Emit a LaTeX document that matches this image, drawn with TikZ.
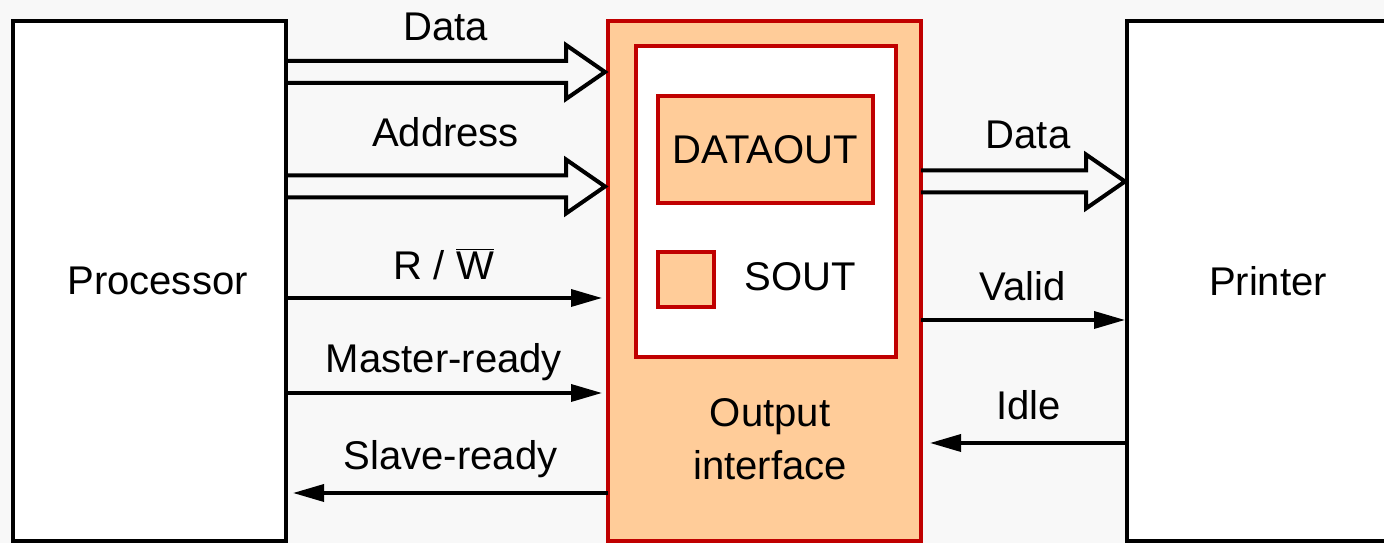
\documentclass[tikz,border=0pt]{standalone}
\usepackage{fontspec}
\setmainfont{Liberation Sans}
\usepackage{tikz}
\usetikzlibrary{arrows.meta,positioning,calc}
\definecolor{ifred}{RGB}{192,0,0}
\definecolor{ifpeach}{RGB}{255,204,153}
\definecolor{bggray}{RGB}{248,248,248}

% hollow bus arrow between two named coordinates
\newcommand{\busarrow}[2]{%
  \draw[bus] ($(#1)+(0,0.22)$) -- ($(#2)+(-0.78,0.22)$) -- ($(#2)+(-0.78,0.54)$)
    -- (#2) -- ($(#2)+(-0.78,-0.54)$) -- ($(#2)+(-0.78,-0.22)$) -- ($(#1)+(0,-0.22)$);}

\begin{document}
\begin{tikzpicture}[
    every node/.style={font=\fontsize{22.8}{30}\selectfont, outer sep=0pt},
    unit/.style={draw, line width=0.08cm, fill=white, minimum height=10.4cm,
      anchor=north west, inner sep=0pt},
    regbox/.style={draw=ifred, line width=0.08cm, fill=ifpeach,
      anchor=north west, inner sep=0pt},
    bus/.style={line width=0.08cm},
    sig/.style={line width=0.07cm, -{Triangle[length=0.62cm,width=0.34cm]}},
    lab/.style={midway, yshift=0.68cm}
  ]
  \clip (0,0) rectangle (27.68,10.86);
  \fill[bggray] (0,0) rectangle (27.68,10.86);

  % Units
  \node[unit, minimum width=5.46cm, label={[xshift=0.16cm]center:Processor}] (proc) at (0.26,10.44) {};
  \node[unit, minimum width=5.64cm] (prn) at (22.54,10.44) {Printer};

  % Output interface with its registers
  \node[regbox, minimum width=6.26cm, minimum height=10.4cm] (oi) at (12.16,10.44) {};
  \node[draw=ifred, line width=0.08cm, fill=white, minimum width=5.2cm,
    minimum height=6.22cm, anchor=north west] (buf) at (12.72,9.94) {};
  \node[regbox, minimum width=4.3cm, minimum height=2.14cm] (dout) at (13.16,8.94) {DATAOUT};
  \node[regbox, minimum width=1.12cm, minimum height=1.1cm] (sbox) at (13.16,5.82) {};
  \node (sout) at (16.0,5.32) {SOUT};
  \node[align=center] (oilab) at (15.4,2.07) {Output\\interface};

  % Buses
  \coordinate (da) at (proc.east |- 0,9.42);
  \coordinate (db) at ([xshift=-0.06cm]oi.west |- 0,9.42);
  \coordinate (aa) at (proc.east |- 0,7.13);
  \coordinate (ab) at ([xshift=-0.06cm]oi.west |- 0,7.13);
  \coordinate (pa) at (oi.east |- 0,7.23);
  \coordinate (pb) at ([xshift=-0.04cm]prn.west |- 0,7.23);
  \busarrow{da}{db}
  \busarrow{aa}{ab}
  \busarrow{pa}{pb}
  \path (da) -- (db) node[midway, yshift=0.9cm] {Data};
  \path (aa) -- (ab) node[midway, yshift=1.09cm] {Address};
  \path (pa) -- (pb) node[midway, xshift=0.1cm, yshift=0.93cm] {Data};

  % Control lines
  \coordinate (rw) at (0,4.9);
  \coordinate (mr) at (0,3.0);
  \coordinate (sr) at (0,1.0);
  \coordinate (vl) at (0,4.46);
  \coordinate (id) at (0,2.0);
  \draw[sig] (proc.east |- rw) -- ([xshift=-0.12cm]oi.west |- rw)
    node[lab] {R / $\overline{\mbox{W}}$};
  \draw[sig] (proc.east |- mr) -- ([xshift=-0.12cm]oi.west |- mr)
    node[lab, yshift=-0.06cm] {Master-ready};
  \draw[sig] (oi.west |- sr) -- ([xshift=0.14cm]proc.east |- sr)
    node[lab] {Slave-ready};
  \draw[sig] (oi.east |- vl) -- ([xshift=-0.04cm]prn.west |- vl)
    node[lab] {Valid};
  \draw[sig] (prn.west |- id) -- ([xshift=0.18cm]oi.east |- id)
    node[lab, yshift=0.08cm] {Idle};
\end{tikzpicture}
\end{document}
